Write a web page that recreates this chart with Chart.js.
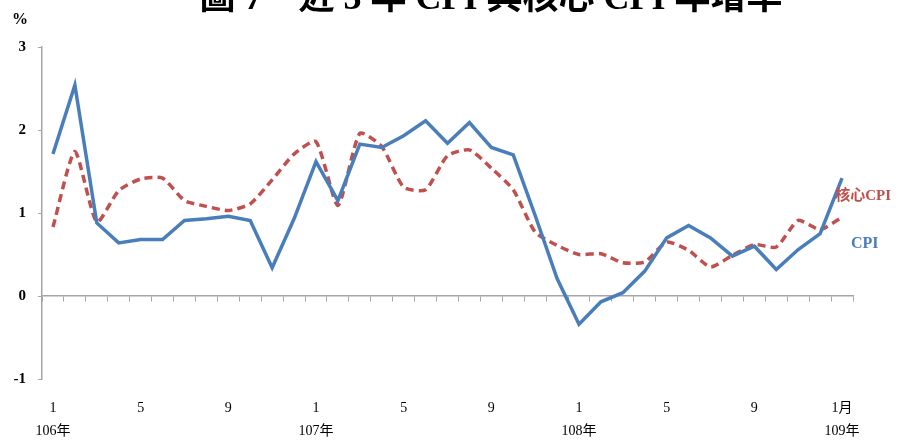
<!DOCTYPE html>
<html>
<head>
<meta charset="utf-8">
<script src="https://cdn.jsdelivr.net/npm/chart.js@4.4.1/dist/chart.umd.min.js"></script>
<style>
  html, body { margin: 0; padding: 0; background: #fff; }
  #wrap { width: 904px; height: 443px; }
</style>
</head>
<body>
<div id="wrap"><canvas id="c" width="904" height="443"></canvas></div>
<script>
const titleText = '圖 7　近 3 年 CPI 與核心 CPI 年增率';
const unitText = '%';
const categories = [
  '106/1','106/2','106/3','106/4','106/5','106/6','106/7','106/8','106/9','106/10','106/11','106/12',
  '107/1','107/2','107/3','107/4','107/5','107/6','107/7','107/8','107/9','107/10','107/11','107/12',
  '108/1','108/2','108/3','108/4','108/5','108/6','108/7','108/8','108/9','108/10','108/11','108/12',
  '109/1'
];
const xTickLabels = [
  ['1','106年'],'','','','5','','','','9','','','',
  ['1','107年'],'','','','5','','','','9','','','',
  ['1','108年'],'','','','5','','','','9','','','',
  ['1月','109年']
];
const cpi = [
  1.71, 2.54, 0.88, 0.64, 0.68, 0.68, 0.91, 0.93, 0.96, 0.91, 0.34, 0.93,
  1.62, 1.15, 1.83, 1.79, 1.93, 2.11, 1.84, 2.09, 1.79, 1.70, 0.97, 0.21,
  -0.34, -0.07, 0.04, 0.30, 0.70, 0.85, 0.70, 0.48, 0.60, 0.32, 0.56, 0.75,
  1.42
];
const coreCpi = [
  0.83, 1.74, 0.89, 1.27, 1.41, 1.42, 1.15, 1.08, 1.03, 1.11, 1.40, 1.71,
  1.86, 1.09, 1.96, 1.80, 1.31, 1.28, 1.69, 1.76, 1.54, 1.28, 0.77, 0.61,
  0.50, 0.51, 0.40, 0.41, 0.65, 0.55, 0.35, 0.49, 0.62, 0.59, 0.91, 0.80,
  0.95
];
const yTicks = [-1, 0, 1, 2, 3];
const seriesNames = ['CPI', '核心CPI'];

const BLUE = '#4a7ebb';
const RED = '#c0504d';
const AXIS = '#a6a6a6';
const SERIF = "'Liberation Serif', 'Noto Sans CJK TC', serif";

const decor = {
  id: 'decor',
  afterDraw(chart) {
    const ctx = chart.ctx;
    const ca = chart.chartArea;
    ctx.save();
    // title (cut off at top as in the reference)
    ctx.fillStyle = '#000';
    ctx.font = 'bold 36px ' + SERIF;
    ctx.textAlign = 'center';
    ctx.textBaseline = 'alphabetic';
    ctx.fillText(titleText, 491, 9);
    // unit
    ctx.font = 'bold 16px ' + SERIF;
    ctx.textAlign = 'center';
    ctx.textBaseline = 'middle';
    ctx.fillText(unitText, 20, 20);
    // series labels
    ctx.textAlign = 'right';
    ctx.font = 'bold 15px ' + SERIF;
    ctx.fillStyle = RED;
    ctx.fillText(seriesNames[1], ca.right + 38, 196);
    ctx.textAlign = 'left';
    ctx.font = 'bold 16px ' + SERIF;
    ctx.fillStyle = BLUE;
    ctx.fillText(seriesNames[0], ca.right - 2, 244);
    ctx.restore();
  }
};

new Chart(document.getElementById('c'), {
  type: 'line',
  data: {
    labels: categories,
    datasets: [
      {
        label: seriesNames[0],
        data: cpi,
        borderColor: BLUE,
        borderWidth: 3.5,
        pointRadius: 0,
        tension: 0,
        fill: false,
        xAxisID: 'x'
      },
      {
        label: seriesNames[1],
        data: coreCpi,
        borderColor: RED,
        borderWidth: 3.5,
        borderDash: [8, 5],
        pointRadius: 0,
        tension: 0.2,
        fill: false,
        xAxisID: 'x'
      }
    ]
  },
  options: {
    responsive: false,
    animation: false,
    layout: { padding: { left: 0, right: 51, top: 47, bottom: 0 } },
    plugins: {
      legend: { display: false },
      title: { display: false },
      tooltip: { enabled: false }
    },
    scales: {
      x: {
        type: 'category',
        position: 'bottom',
        offset: true,
        grid: { display: false, drawTicks: false },
        border: { display: false },
        ticks: {
          autoSkip: false,
          maxRotation: 0,
          minRotation: 0,
          padding: 17,
          color: '#000',
          font: { family: SERIF, size: 14, lineHeight: 1.7 },
          callback: (v, i) => xTickLabels[i]
        },
        afterFit: s => { s.height = 64; }
      },
      x2: {
        type: 'category',
        position: { y: 0 },
        offset: true,
        grid: { display: true, offset: true, drawOnChartArea: false, drawTicks: true, tickLength: 5, color: AXIS, lineWidth: 1 },
        border: { display: true, color: AXIS, width: 1.5 },
        ticks: { display: false }
      },
      y: {
        type: 'linear',
        position: 'left',
        min: yTicks[0],
        max: yTicks[yTicks.length - 1],
        afterBuildTicks: s => { s.ticks = yTicks.map(v => ({ value: v })); },
        grid: { display: true, drawOnChartArea: false, drawTicks: true, tickLength: 4, color: AXIS },
        border: { display: true, color: AXIS, width: 1.5 },
        ticks: {
          padding: 12,
          color: '#000',
          font: { family: SERIF, size: 15, weight: 'bold' },
          callback: v => String(v)
        },
        afterFit: s => { s.width = 42; }
      }
    }
  },
  plugins: [decor]
});
</script>
</body>
</html>
